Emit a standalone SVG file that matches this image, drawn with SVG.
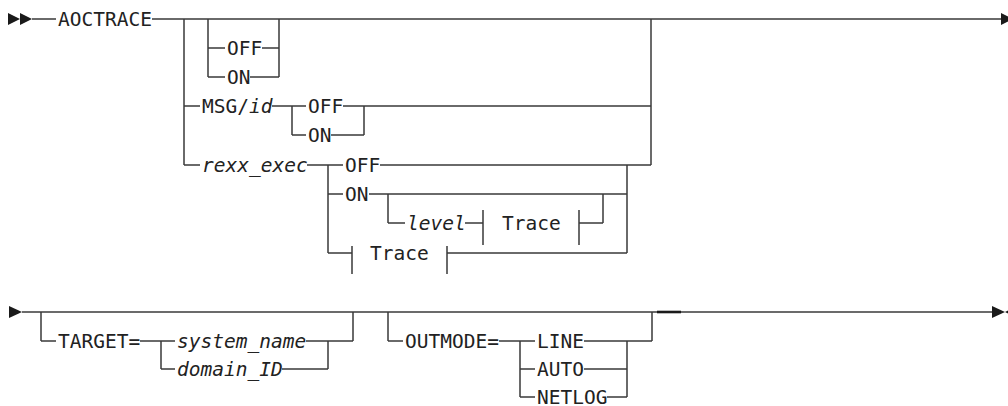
<svg xmlns="http://www.w3.org/2000/svg" width="1008" height="406" viewBox="0 0 1008 406">
<style>
.ln{stroke:#3a3a3a;stroke-width:1.5;fill:none}
.thick{stroke:#1a1a1a;stroke-width:2.6;fill:none}
.ar{fill:#1a1a1a}
text{font-family:"DejaVu Sans Mono","Liberation Mono",monospace;font-size:19.5px;fill:#222}
.it{font-style:italic}
</style>
<rect width="1008" height="406" fill="#fff"/>
<g id="connectors">
<!-- row 1 -->
<path class="ln" d="M32 19H56M152 19H1001"/>
<path class="ln" d="M208 19V77M208 48H225M262 48H279M208 77H225M250 77H279M279 19V77"/>
<path class="ln" d="M184 19V165M184 106H200M184 165H200"/>
<path class="ln" d="M272 106H306M292 106V135M292 135H306M343 106H651M331 135H364M364 106V135"/>
<path class="ln" d="M651 19V165"/>
<path class="ln" d="M307 165H343M380 165H651M328 165V253M328 194H343M369 194H627M627 165V253"/>
<path class="ln" d="M388 194V223M388 223H405M465 223H483M483 210V245M579 210V245M579 223H603M603 194V223"/>
<path class="ln" d="M328 253H352M352 246V274M447 246V274M447 253H627"/>
<!-- row 2 -->
<path class="ln" d="M22 312H992"/>
<path class="thick" d="M657 312H681"/>
<path class="ln" d="M41 312V341M41 341H56M140 341H175M161 341V369M161 369H175M306 341H353M282 369H328M328 341V369M353 312V341"/>
<path class="ln" d="M388 312V341M388 341H403M499 341H535M520 341V397M520 369H535M520 397H535M584 341H652M584 369H627M607 397H627M627 341V397M652 312V341"/>
<polygon class="ar" points="8,13 20,19 8,25"/>
<polygon class="ar" points="20,13 32,19 20,25"/>
<polygon class="ar" points="1001,13 1013,19 1001,25"/>
<polygon class="ar" points="9,306 22,312 9,318"/>
<polygon class="ar" points="992,306 1005,312 992,318"/>
<polygon class="ar" points="1018,306 1005,312 1018,318"/>
</g>
<g id="n-aoctrace"><text x="58" y="26">AOCTRACE</text></g>
<g id="n-off1"><text x="227" y="55">OFF</text></g>
<g id="n-on1"><text x="227" y="84">ON</text></g>
<g id="n-msgid"><text x="202" y="113">MSG/<tspan class="it">id</tspan></text></g>
<g id="n-msg-off"><text x="308" y="113">OFF</text></g>
<g id="n-msg-on"><text x="308" y="142">ON</text></g>
<g id="n-rexx"><text class="it" x="202" y="172">rexx_exec</text></g>
<g id="n-rexx-off"><text x="345" y="172">OFF</text></g>
<g id="n-rexx-on"><text x="345" y="201">ON</text></g>
<g id="n-level"><text class="it" x="407" y="230">level</text></g>
<g id="n-trace1"><text x="502" y="230">Trace</text></g>
<g id="n-trace2"><text x="370" y="260">Trace</text></g>
<g id="n-target"><text x="58" y="348">TARGET=</text></g>
<g id="n-sysname"><text class="it" x="177" y="348">system_name</text></g>
<g id="n-domain"><text class="it" x="177" y="376">domain_ID</text></g>
<g id="n-outmode"><text x="405" y="348">OUTMODE=</text></g>
<g id="n-line"><text x="537" y="348">LINE</text></g>
<g id="n-auto"><text x="537" y="376">AUTO</text></g>
<g id="n-netlog"><text x="537" y="404">NETLOG</text></g>
</svg>
